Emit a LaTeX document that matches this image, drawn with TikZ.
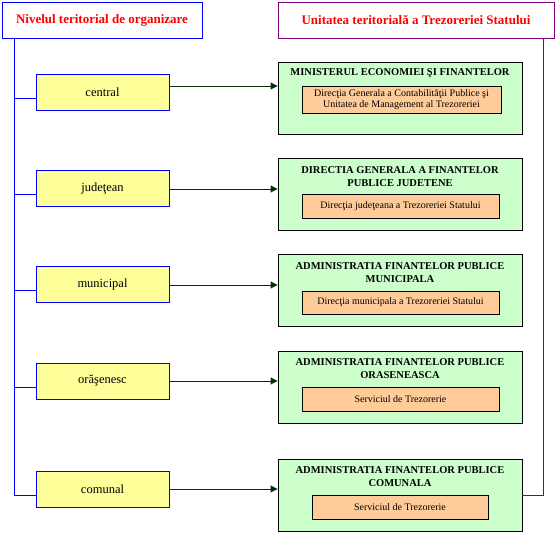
\documentclass[tikz,border=0pt]{standalone}
\usepackage{fontspec}
\setmainfont{Liberation Serif}
\usetikzlibrary{arrows.meta,calc}
\definecolor{hblue}{HTML}{0000FF}
\definecolor{hpurple}{HTML}{800080}
\definecolor{yfill}{HTML}{FFFF99}
\definecolor{gfill}{HTML}{CCFFCC}
\definecolor{ofill}{HTML}{FFCC99}
\definecolor{arrowc}{HTML}{003300}
\definecolor{hred}{HTML}{FF0000}
\begin{document}
\begin{tikzpicture}[x=1pt,y=-1pt,
  header/.style={draw, line width=0.9pt, fill=white, minimum height=36pt, inner sep=0pt,
    font=\fontsize{13}{15}\selectfont\bfseries, text=hred},
  levelbox/.style={draw=hblue, line width=0.9pt, fill=yfill, minimum width=133pt, minimum height=36pt,
    inner sep=0pt, font=\fontsize{12.5}{14}\selectfont},
  greenbox/.style={draw=black, line width=0.9pt, fill=gfill, minimum width=244pt, minimum height=72pt, inner sep=0pt},
  titletext/.style={align=center, inner sep=0pt, font=\fontsize{10.5}{13}\selectfont\bfseries},
  orangebox/.style={draw=black, line width=0.9pt, fill=ofill, inner sep=0pt, align=center,
    font=\fontsize{10}{11.5}\selectfont},
  tree/.style={draw=hblue, line width=0.9pt},
  ptree/.style={draw=hpurple, line width=0.9pt},
  arr/.style={draw=arrowc, line width=0.9pt, -{Triangle[length=7pt,width=7pt]}}
]
\useasboundingbox (0,0) rectangle (558,534);

% headers
\node[header, draw=hblue, minimum width=200pt] (h1) at (102,20) {Nivelul teritorial de organizare};
\node[header, draw=hpurple, minimum width=276pt] (h2) at (416,20) {Unitatea teritorială a Trezoreriei Statului};

% level boxes
\node[levelbox] (c1) at (102.5,92) {central};
\node[levelbox] (c2) at (102.5,188) {judeţean};
\node[levelbox] (c3) at (102.5,284) {municipal};
\node[levelbox] (c4) at (102.5,381) {orăşenesc};
\node[levelbox] (c5) at (102.5,489) {comunal};

% green boxes
\node[greenbox] (g1) at (400,98) {};
\node[greenbox] (g2) at (400,194) {};
\node[greenbox] (g3) at (400,290) {};
\node[greenbox] (g4) at (400,387) {};
\node[greenbox] (g5) at (400,495) {};

\node[titletext] (t1) at (400,73) {MINISTERUL ECONOMIEI ŞI FINANTELOR};
\node[titletext] (t2) at (400,176.5) {DIRECTIA GENERALA A FINANTELOR\\PUBLICE JUDETENE};
\node[titletext] (t3) at (400,272.5) {ADMINISTRATIA FINANTELOR PUBLICE\\MUNICIPALA};
\node[titletext] (t4) at (400,368.5) {ADMINISTRATIA FINANTELOR PUBLICE\\ORASENEASCA};
\node[titletext] (t5) at (400,476.5) {ADMINISTRATIA FINANTELOR PUBLICE\\COMUNALA};

\node[orangebox, minimum width=199pt, minimum height=27pt] (o1) at (401.5,99.5)
  {Direcţia Generala a Contabilităţii Publice şi\\Unitatea de Management al Trezoreriei};
\node[orangebox, minimum width=197pt, minimum height=24pt] (o2) at (400.5,206)
  {Direcţia judeţeana a Trezoreriei Statului};
\node[orangebox, minimum width=197pt, minimum height=23pt] (o3) at (400.5,302.5)
  {Direcţia municipala a Trezoreriei Statului};
\node[orangebox, minimum width=197pt, minimum height=24pt] (o4) at (400.5,399)
  {Serviciul de Trezorerie};
\node[orangebox, minimum width=176pt, minimum height=24pt] (o5) at (400,507)
  {Serviciul de Trezorerie};

% left tree
\coordinate (tl) at (14,495);
\draw[tree] (h1.south -| tl) -- (tl);
\foreach \n in {1,...,5}{
  \coordinate (b\n) at ($(c\n.west)+(0,6)$);
  \draw[tree] (b\n) -- (b\n -| tl);
}

% right purple connector
\coordinate (tr) at (543,495);
\draw[ptree] (h2.south -| tr) -- (tr) -- (g5.east);

% arrows
\coordinate (a1) at ($(c1.east)+(0,-6)$);
\coordinate (a2) at ($(c2.east)+(0,1)$);
\coordinate (a3) at ($(c3.east)+(0,1)$);
\coordinate (a4) at (c4.east);
\coordinate (a5) at (c5.east);
\foreach \n in {1,...,5}{
  \draw[arr] (a\n) -- (a\n -| g\n.west);
}
\end{tikzpicture}
\end{document}
